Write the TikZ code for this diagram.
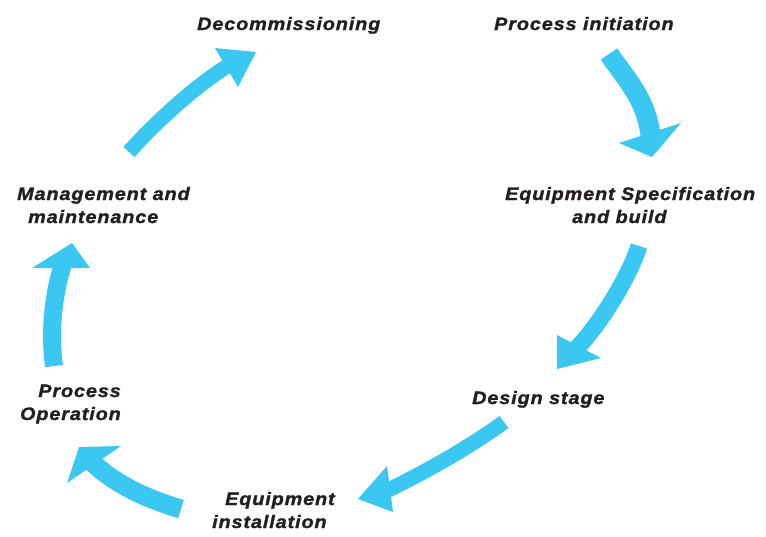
\documentclass[tikz,border=0pt]{standalone}
\usepackage{fontspec}
\newfontfamily\lblfont{Liberation Sans}[LetterSpace=5, FakeStretch=1.1, FakeBold=1.5]
\definecolor{arrowblue}{RGB}{58,199,242}
\definecolor{txt}{RGB}{35,31,32}
\tikzset{
  lbl/.style={inner sep=0pt, text=txt, font=\lblfont\bfseries\itshape\fontsize{18}{23}\selectfont},
  shaft/.style={draw=arrowblue, line cap=butt},
  headtri/.style={fill=arrowblue}
}
\begin{document}
\begin{tikzpicture}[x=1pt,y=-1pt]
\useasboundingbox (0,0) rectangle (766,536);
% labels (multi-line nodes: base = last line)
\node[lbl, anchor=base west] (dec) at (197,30) {Decommissioning};
\node[lbl, anchor=base west] (init) at (494,30) {Process initiation};
\node[lbl, anchor=base west, align=left] (spec) at (505,223) {Equipment Specification\\\hspace*{67pt}and build};
\node[lbl, anchor=base west] (design) at (472,404) {Design stage};
\node[lbl, anchor=base west, align=left] (inst) at (212,528) {\hspace*{13pt}Equipment\\installation};
\node[lbl, anchor=base east, align=right] (oper) at (121,420) {Process\\Operation};
\node[lbl, anchor=base west, align=left] (mgmt) at (17,223) {Management and\\\hspace*{11pt}maintenance};
% arrow 1: Process initiation -> Equipment specification
\coordinate (t1) at (609,54);
\coordinate (b1) at (651,140);
\draw[shaft, line width=20pt] (t1) .. controls (625,78) and (648,100) .. (b1);
\fill[headtri] (619,143) -- (652,157) -- (681,123) -- cycle;
% arrow 3: Equipment specification -> Design stage
\coordinate (t3) at (639,246);
\coordinate (b3) at (575,350);
\draw[shaft, line width=17pt] (t3) .. controls (630,275) and (600,325) .. (b3);
\fill[headtri] (557,335) -- (557,369) -- (601,358) -- cycle;
% arrow 4: Design stage -> Equipment installation
\coordinate (t4) at (504,422);
\coordinate (b4) at (386,491);
\draw[shaft, line width=15pt] (t4) .. controls (470,447) and (420,475) .. (b4);
\fill[headtri] (387,466) -- (358,499) -- (393,512) -- cycle;
% arrow 6: Equipment installation -> Process Operation
\coordinate (t6) at (181,509);
\coordinate (b6) at (91,461);
\draw[shaft, line width=19pt] (t6) .. controls (150,500) and (115,485) .. (b6);
\fill[headtri] (121,446) -- (79,447) -- (67,483) -- cycle;
% arrow 5: Process Operation -> Management
\coordinate (t5) at (54,366);
\coordinate (b5) at (63,264);
\draw[shaft, line width=18pt] (t5) .. controls (49,330) and (54,292) .. (b5);
\fill[headtri] (32,268) -- (72,243) -- (90,268) -- cycle;
% arrow 2: Management -> Decommissioning
\coordinate (t2) at (129,152);
\coordinate (b2) at (231,64);
\draw[shaft, line width=15pt] (t2) .. controls (150,128) and (195,85) .. (b2);
\fill[headtri] (215,48) -- (256,52) -- (238,87) -- cycle;
\end{tikzpicture}
\end{document}
